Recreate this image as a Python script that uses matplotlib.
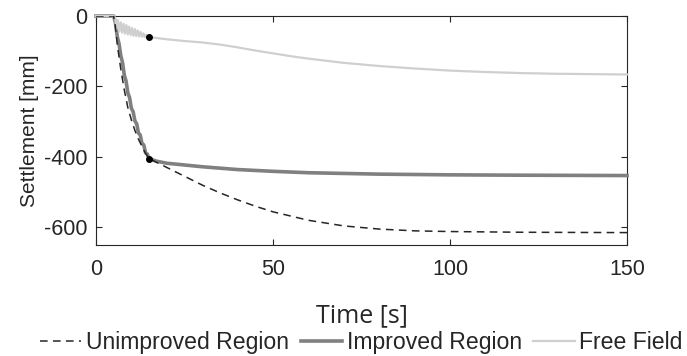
import numpy as np
import matplotlib
matplotlib.use('Agg')
import matplotlib.pyplot as plt

plt.rcParams['font.family'] = ['Liberation Sans', 'DejaVu Sans']
plt.rcParams['axes.unicode_minus'] = False

# Unimproved Region (dashed)
t_unimp = [0, 5, 5.5, 6, 7, 8, 9, 10, 11, 12, 13, 14, 15, 17, 20, 25, 30, 35,
           40, 45, 50, 60, 70, 80, 90, 100, 120, 150]
s_unimp = [0, 0, -30, -80, -150, -210, -260, -295, -325, -350, -370, -390, -405,
           -415, -430, -455, -480, -502, -522, -540, -556, -580, -596, -605,
           -610, -612, -614, -615]

# Improved Region (thick grey)
t_imp = [0, 5, 5.5, 6, 6.5, 7, 7.5, 8, 8.5, 9, 9.5, 10, 10.5, 11, 11.5, 12,
         12.5, 13, 13.5, 14, 14.5, 15, 17, 20, 25, 30, 40, 50, 60, 70, 80, 100,
         120, 150]
s_imp = [0, 0, -20, -58, -78, -112, -132, -168, -185, -218, -232, -262, -272,
         -298, -306, -332, -338, -362, -366, -388, -392, -405, -412, -418, -423,
         -428, -436, -441, -445, -447, -449, -451, -452, -453]

# Free Field (light grey)
t_ff = [0, 5, 5.4, 5.8, 6.2, 6.6, 7.0, 7.4, 7.8, 8.2, 8.6, 9.0, 9.4, 9.8, 10.2,
        10.6, 11.0, 11.4, 11.8, 12.2, 12.6, 13.0, 13.4, 13.8, 14.2, 14.6, 15,
        20, 25, 30, 35, 40, 45, 50, 55, 60, 70, 80, 90, 100, 110, 120, 130,
        140, 150]
s_ff = [0, 0, -5, -38, -12, -44, -18, -47, -22, -50, -26, -52, -30, -54, -34,
        -56, -37, -57, -41, -58, -45, -59, -49, -60, -53, -61, -60,
        -66, -71, -75, -81, -89, -98, -106, -114, -121, -133, -142, -149,
        -155, -159, -162, -164, -165, -166]

# marked points
dot_t = [15, 15]
dot_s = [-60, -405]

fig = plt.figure(figsize=(6.87, 3.56), dpi=100)
ax = fig.add_axes([0.1397, 0.312, 0.773, 0.643])

ax.plot(t_unimp, s_unimp, color='#262626', lw=1.1, linestyle=(0, (5, 3.5)),
        label='Unimproved Region', zorder=4)
ax.plot(t_imp, s_imp, color='#808080', lw=2.6, label='Improved Region',
        zorder=3, clip_on=False)
ax.plot(t_ff, s_ff, color='#cfcfcf', lw=1.6, label='Free Field',
        zorder=3, clip_on=False)
ax.plot(dot_t, dot_s, 'o', color='black', ms=4, zorder=5)

ax.set_xlim(0, 150)
ax.set_ylim(-650, 0)
ax.set_xticks([0, 50, 100, 150])
ax.set_yticks([-600, -400, -200, 0])
ax.tick_params(direction='in', top=True, right=True, length=4, width=0.8,
               colors='#262626', labelsize=15.5)
ax.tick_params(axis='x', pad=10)
ax.tick_params(axis='y', pad=6)
for sp in ax.spines.values():
    sp.set_color('#262626')
    sp.set_linewidth(0.8)

ax.set_xlabel('Time [s]', fontsize=18, color='#262626', labelpad=17,
              family=['Open Sans', 'DejaVu Sans'])
ax.set_ylabel('Settlement [mm]', fontsize=15, color='#262626', labelpad=4)

leg = fig.legend(loc='center', bbox_to_anchor=(0.526, 0.037), ncol=3,
                 frameon=False, fontsize=16.6, handlelength=1.8,
                 handletextpad=0.2, columnspacing=0.5, borderpad=0)
for txt in leg.get_texts():
    txt.set_color('#262626')

fig.savefig('out.png', dpi=100)
